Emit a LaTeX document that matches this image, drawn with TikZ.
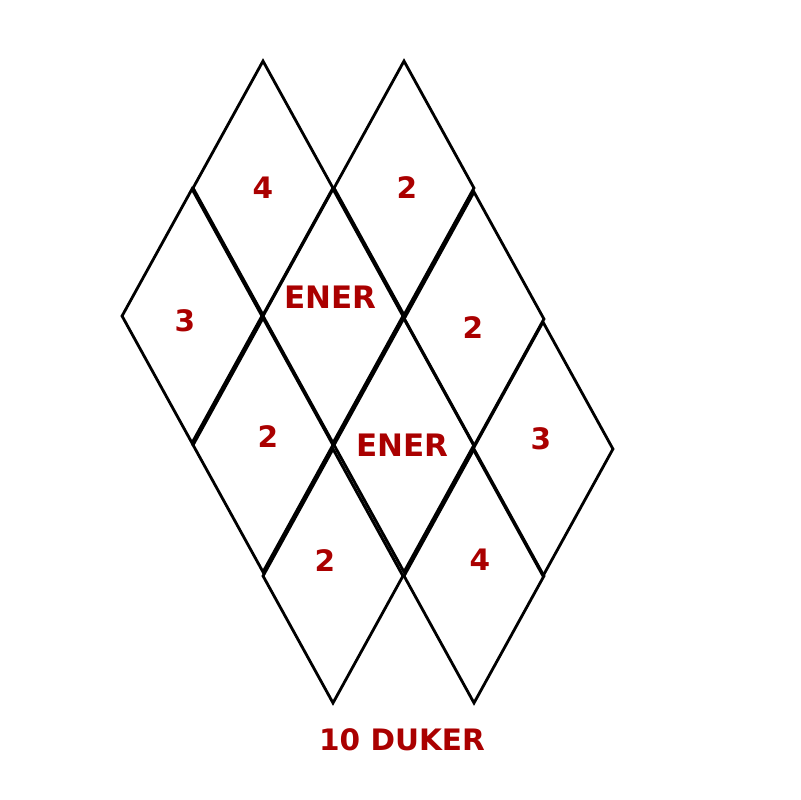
\documentclass[tikz,border=0pt]{standalone}
\usepackage{fontspec}
\setmainfont{DejaVu Sans}
\usepackage{tikz}
\usetikzlibrary{shapes.geometric}
\definecolor{TileRed}{RGB}{170,0,0}

\begin{document}
\begin{tikzpicture}[
        x=0.025cm, y=-0.025cm,
        tile/.style={draw, shape=diamond, inner sep=0pt, line width=2pt,
                                minimum width=3.525cm, minimum height=6.375cm},
        lbl/.style={text=TileRed, inner sep=0pt, font=\bfseries\fontsize{21}{21}\selectfont}
]
    \useasboundingbox (0,0) rectangle (800,800);
    % tiles
    \node[tile] (t4a)  at (263,188) {};
    \node[tile] (t2a)  at (404,188) {};
    \node[tile] (t3a)  at (192,316) {};
    \node[tile] (tena) at (333,316) {};
    \node[tile] (t2b)  at (474,319) {};
    \node[tile] (t2c)  at (263,445) {};
    \node[tile] (tenb) at (404,445) {};
    \node[tile] (t3b)  at (543,449) {};
    \node[tile] (t2d)  at (333,576) {};
    \node[tile] (t4b)  at (474,576) {};
    % labels
    \node[lbl] (l4a)  at (263,188) {4};
    \node[lbl] (l2a)  at (407,188) {2};
    \node[lbl] (l3a)  at (185,321) {3};
    \node[lbl, font=\bfseries\fontsize{22}{22}\selectfont] (lena) at (330,297) {ENER};
    \node[lbl] (l2b)  at (473,328) {2};
    \node[lbl] (l2c)  at (268,437) {2};
    \node[lbl, font=\bfseries\fontsize{22}{22}\selectfont] (lenb) at (402,445) {ENER};
    \node[lbl] (l3b)  at (541,439) {3};
    \node[lbl] (l2d)  at (325,561) {2};
    \node[lbl] (l4b)  at (480,560) {4};
    \node[lbl] (title) at (402,740) {10 DUKER};
\end{tikzpicture}
\end{document}
